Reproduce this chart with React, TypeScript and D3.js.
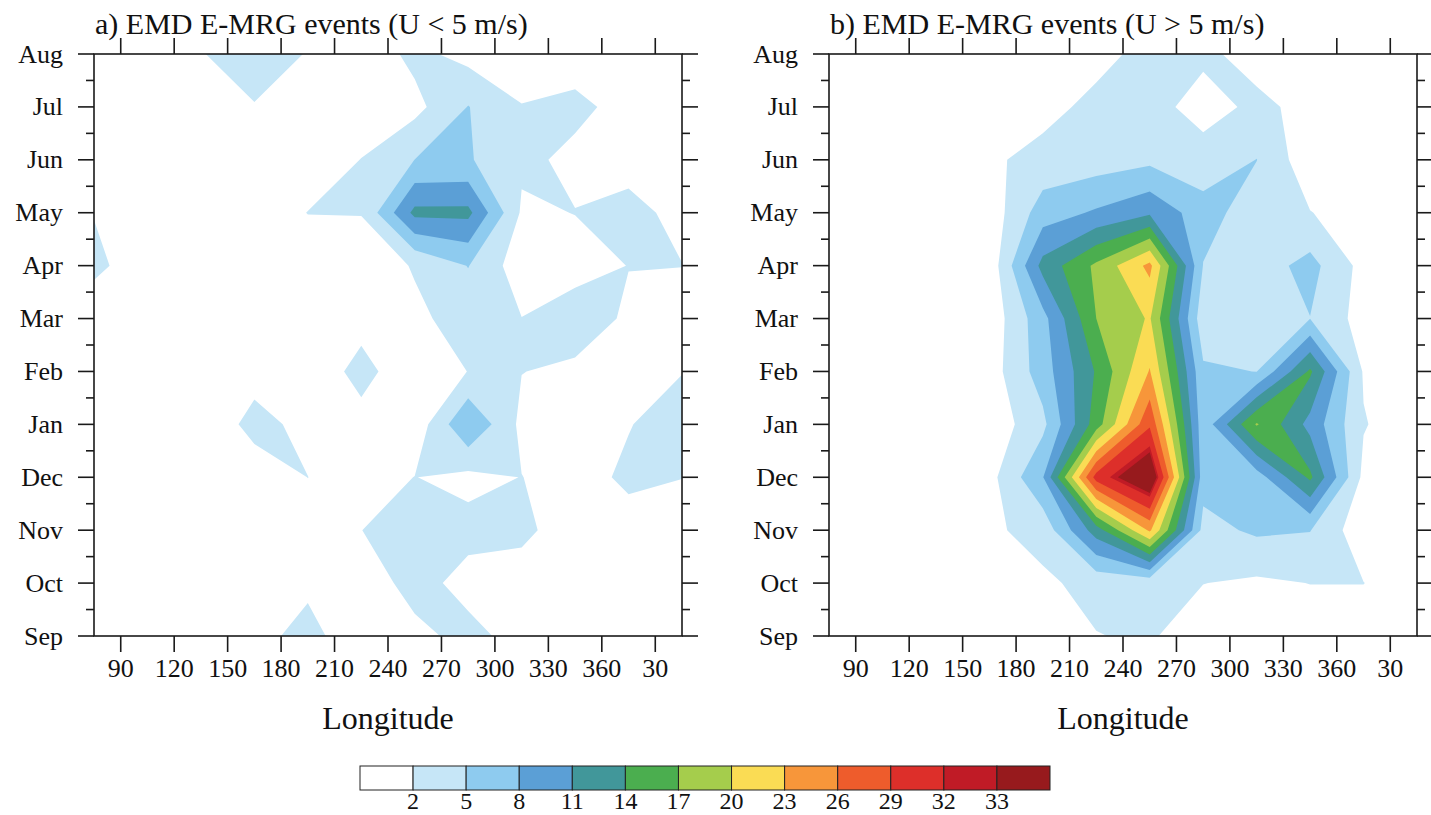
import React from 'react';
import * as d3 from 'd3';

const lonGrid = [75, 105, 135, 165, 195, 225, 255, 285, 315, 345, 375, 405];
const monthLabels = ['Sep', 'Oct', 'Nov', 'Dec', 'Jan', 'Feb', 'Mar', 'Apr', 'May', 'Jun', 'Jul', 'Aug'];
const lonTicks = [90, 120, 150, 180, 210, 240, 270, 300, 330, 360, 390];
const levels = [2, 5, 8, 11, 14, 17, 20, 23, 26, 29, 32, 33];
const colors = [
  '#ffffff', '#c6e6f7', '#8ecbef', '#5b9fd6', '#41979a', '#4bae4f', '#a5cd4c',
  '#fadc54', '#f7963a', '#ee5c2c', '#dd2f2a', '#c01b26', '#971a1d',
];

// event counts, rows Sep -> Aug, columns follow lonGrid
const slowEvents = [
  [0.5, 0.5, 0.5, 1.0, 3.0, 0, 1.2, 2.9, 0.9, 0.5, 0.5, 0.5],
  [0.5, 0.5, 0.5, 0.5, 1.4, 0.3, 3.1, 1.0, 0.78, 0.5, 0.5, 0.5],
  [0.5, 0.5, 0.5, 0.5, 0.8, 1.98, 3.0, 2.9, 2.6, 0.6, 0.72, 0.5],
  [0.5, 0.5, 0.5, 0.64, 2.02, 0.5, 2.05, 1.2, 2.05, 0.7, 2.6, 2.05],
  [0.5, 0.5, 0.1, 2.8, 1.29, 1.0, 0, 7.9, 1.3, 0.5, 1.85, 3.5],
  [0.5, 0.5, 0.5, 1.1, 0, 2.95, 0, 2.05, 2.05, 1.5, 0.5, 1.9],
  [0, 0.5, 0.5, 0.5, 0.5, 1.0, 1.5, 3.0, 2.05, 3.4, 1.6, 0.5],
  [2.74, 0.2, 0.5, 0.5, 0.5, 0.5, 2.2, 5.1, 0.3, 1.0, 2.05, 2.05],
  [1.88, 0.5, 0.5, 0.5, 2.05, 2.1, 11.8, 11.8, 1.6, 2.05, 2.85, 1.2],
  [0.5, 0.5, 0.5, 1.0, 0.5, 2.05, 5.02, 5.3, 2.5, 1.5, 1.0, 0.5],
  [0.5, 0.5, 1.0, 1.9, 0.5, 0.5, 1.1, 5.1, 2.1, 2.5, 1.3, 0.5],
  [0.5, 1.0, 1.9, 3.0, 1.9, 0, 2.8, 1.0, 0.5, 1.0, 0.5, 0.5],
];

const fastEvents = [
  [0, 0, 0, 0, 0, 1.9, 2.4, 0, 0, 0, 0, 0],
  [0, 0, 0, 0, 1.5, 2.9, 2.9, 2.05, 1.5, 2.05, 2.05, 0],
  [0, 0, 0, 1.5, 3.0, 12.5, 23.5, 4.0, 5.5, 5.1, 0, 0],
  [0, 0, 0, 0.98, 7.8, 30.3, 37, 6.2, 6.5, 14.6, 1.2, 0],
  [0, 0, 0, 0, 4.2, 15.5, 28.5, 6.0, 17.3, 10, 2.2, 0],
  [0, 0, 0, 0.5, 6.5, 14.3, 23.2, 5.5, 4.95, 14.5, 1.7, 0],
  [0, 0, 0, 0, 7.0, 17, 20.3, 3.0, 3.0, 4.95, 0.75, 0],
  [0, 0, 0, 0, 12, 17.6, 23.8, 4.9, 3.5, 6.0, 1.0, 0],
  [0, 0, 0, 0.2, 6.5, 8.4, 10.5, 6.3, 3.3, 2.1, 0.5, 0],
  [0, 0, 0, 1.5, 3.0, 3.5, 4.3, 3.08, 5.05, 0, 0, 0],
  [0, 0, 0, 0.5, 1.0, 2.85, 2.92, 1.0, 2.56, 1.3, 0, 0],
  [0, 0, 0, 0, 0.5, 1.0, 3.0, 2.5, 1.1, 0.5, 0, 0],
];

const FONT = '"Liberation Serif", "Times New Roman", serif';
const PW = 588;
const TOP = 54;
const BOTTOM = 636;

function Panel({ id, title, data, x0 }) {
  const x = d3.scaleLinear().domain([75, 405]).range([x0, x0 + PW]);
  const y = d3.scaleLinear().domain([0, 11]).range([BOTTOM, TOP]);
  const nx = lonGrid.length;
  const ny = monthLabels.length;
  const dLon = lonGrid[1] - lonGrid[0];

  const path = d3.geoPath(d3.geoTransform({
    point(gx, gy) {
      this.stream.point(x(lonGrid[0] + (gx - 0.5) * dLon), y(gy - 0.5));
    },
  }));

  // contour the negated field: each layer is the area where count <= level,
  // painted from the highest level down so lower bands end on top
  const neg = data.flat().map((v) => -v);
  const layers = d3.contours().size([nx, ny]).thresholds(levels.map((t) => -t))(neg);

  const minorY = d3.range(0.5, 11, 1);
  const tick = 16;
  const minor = 8;

  return (
    <g>
      <defs>
        <clipPath id={`clip-${id}`}>
          <rect x={x0} y={TOP} width={PW} height={BOTTOM - TOP} />
        </clipPath>
      </defs>
      <g clipPath={`url(#clip-${id})`}>
        <rect x={x0} y={TOP} width={PW} height={BOTTOM - TOP} fill={colors[levels.length]} />
        {layers.map((c) => (
          <path key={c.value} d={path(c)} fill={colors[levels.indexOf(-c.value)]} />
        ))}
      </g>
      <g stroke="#1a1a1a" strokeWidth={1.6} fill="none">
        <rect x={x0} y={TOP} width={PW} height={BOTTOM - TOP} />
        {lonTicks.map((t) => (
          <g key={t}>
            <line x1={x(t)} x2={x(t)} y1={BOTTOM} y2={BOTTOM + tick} />
            <line x1={x(t)} x2={x(t)} y1={TOP} y2={TOP - tick} />
          </g>
        ))}
        {monthLabels.map((m, i) => (
          <g key={m}>
            <line x1={x0 - tick} x2={x0} y1={y(i)} y2={y(i)} />
            <line x1={x0 + PW} x2={x0 + PW + tick} y1={y(i)} y2={y(i)} />
          </g>
        ))}
        {minorY.map((v) => (
          <g key={v}>
            <line x1={x0 - minor} x2={x0} y1={y(v)} y2={y(v)} />
            <line x1={x0 + PW} x2={x0 + PW + minor} y1={y(v)} y2={y(v)} />
          </g>
        ))}
      </g>
      <g fontFamily={FONT} fontSize={26} fill="#111">
        {monthLabels.map((m, i) => (
          <text key={m} x={x0 - 31} y={y(i)} textAnchor="end" dominantBaseline="central">{m}</text>
        ))}
        {lonTicks.map((t) => (
          <text key={t} x={x(t)} y={677} textAnchor="middle">{t > 360 ? t - 360 : t}</text>
        ))}
      </g>
      <text x={x0 + PW / 2} y={729} textAnchor="middle" fontFamily={FONT} fontSize={32} fill="#111">Longitude</text>
      <text x={x0 + 1} y={34} fontFamily={FONT} fontSize={30} fill="#111">{title}</text>
    </g>
  );
}

function ColorBar() {
  const cx = d3.scaleLinear().domain([0, colors.length]).range([360, 1050]);
  return (
    <g>
      {colors.map((c, i) => (
        <rect key={i} x={cx(i)} y={766} width={cx(i + 1) - cx(i)} height={24} fill={c} stroke="#222" strokeWidth={1} />
      ))}
      {levels.map((l, i) => (
        <text key={l} x={cx(i + 1)} y={809} textAnchor="middle" fontFamily={FONT} fontSize={24} fill="#111">{l}</text>
      ))}
    </g>
  );
}

export default function App() {
  return (
    <svg width={1431} height={815} style={{ position: 'absolute', left: 0, top: 0, background: '#fff' }}>
      <Panel id="a" title="a) EMD E-MRG events (U < 5 m/s)" data={slowEvents} x0={94} />
      <Panel id="b" title="b) EMD E-MRG events (U > 5 m/s)" data={fastEvents} x0={829} />
      <ColorBar />
    </svg>
  );
}
